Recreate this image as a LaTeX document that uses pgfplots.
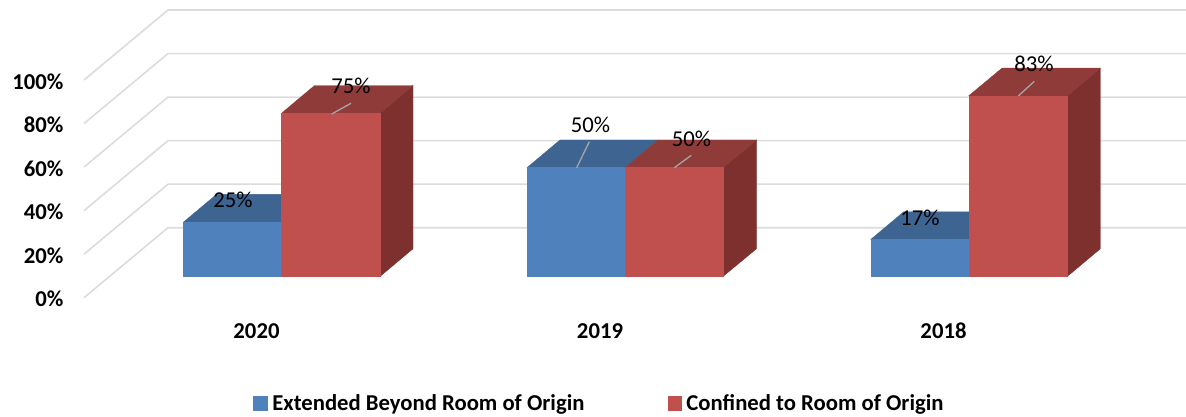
\documentclass[border=0pt]{standalone}
\usepackage{fontspec}
\setmainfont{Carlito}
\usepackage{pgfplots}
\pgfplotsset{compat=1.18}
\definecolor{gridc}{HTML}{DCDCDC}
\definecolor{bluef}{HTML}{4F81BD}
\definecolor{bluet}{HTML}{3E6491}
\definecolor{redf}{HTML}{C0504D}
\definecolor{redt}{HTML}{8F3B39}
\definecolor{reds}{HTML}{7D302E}
\definecolor{leader}{HTML}{A6A6A6}
\newcommand{\lblfont}{\fontsize{22.7}{25}\selectfont}
\pgfplotsset{
  grd/.style={gridc,line width=1.6pt,forget plot},
  face/.style={draw=#1,fill=#1,line width=0.3pt,forget plot,y filter/.expression={y+9.74}},
  lead/.style={leader,line width=1.3pt,forget plot},
  sq/.style={legend image code/.code={\fill[##1] (0pt,-7pt) rectangle (13.5pt,6.5pt);}},
}
\begin{document}
\begin{tikzpicture}
\begin{axis}[
  name=a, scale only axis, width=1102pt, height=297.7pt,
  xmin=84, xmax=1186, ymin=0, ymax=136.75, clip=false,
  axis line style={draw=none}, tick style={draw=none},
  xtick={256.5,600,943.5}, xticklabels={2020,2019,2018},
  ytick={0,20,40,60,80,100},
  yticklabels={0\%,20\%,40\%,60\%,80\%,100\%},
  ticklabel style={font=\lblfont\bfseries, black},
  yticklabel style={xshift=-17pt,yshift=-1.5pt},
  xticklabel style={yshift=-22pt},
  legend columns=2,
  legend style={at={(0.4678,-0.3537)},anchor=center,draw=none,fill=none,
    font=\lblfont\bfseries,inner sep=0pt,
    /tikz/every odd column/.append style={column sep=3pt},
    /tikz/every even column/.append style={column sep=81pt}},
  legend cell align=left,
]
% back wall and side wall gridlines: value, then value + depth of the floor
\addplot[grd] coordinates {(84,0) (168,32.15) (1186,32.15)};
\addplot[grd] coordinates {(84,20) (168,52.15) (1186,52.15)};
\addplot[grd] coordinates {(84,40) (168,72.15) (1186,72.15)};
\addplot[grd] coordinates {(84,60) (168,92.15) (1186,92.15)};
\addplot[grd] coordinates {(84,80) (168,112.15) (1186,112.15)};
\addplot[grd] coordinates {(84,100) (168,132.15) (1186,132.15)};
% 2020: 25, 75
\addplot[face=bluet] coordinates {(183.5,25) (281.5,25) (314.5,37.72) (216.5,37.72)} -- cycle;
\addplot[face=bluef] coordinates {(183.5,0) (183.5,25) (281.5,25) (281.5,0)} -- cycle;
\addplot[face=reds] coordinates {(380,0) (413,12.72) (413,87.72) (380,75)} -- cycle;
\addplot[face=redt] coordinates {(281.5,75) (380,75) (413,87.72) (314.5,87.72)} -- cycle;
\addplot[face=redf] coordinates {(281.5,0) (281.5,75) (380,75) (380,0)} -- cycle;
% 2019: 50, 50
\addplot[face=bluet] coordinates {(527,50) (625,50) (658,62.72) (560,62.72)} -- cycle;
\addplot[face=bluef] coordinates {(527,0) (527,50) (625,50) (625,0)} -- cycle;
\addplot[face=reds] coordinates {(723,0) (756.5,12.72) (756.5,62.72) (723,50)} -- cycle;
\addplot[face=redt] coordinates {(625,50) (723,50) (756.5,62.72) (658,62.72)} -- cycle;
\addplot[face=redf] coordinates {(625,0) (625,50) (723,50) (723,0)} -- cycle;
% 2018: 17, 83
\addplot[face=bluet] coordinates {(870.7,17) (968.7,17) (1002,29.72) (903.7,29.72)} -- cycle;
\addplot[face=bluef] coordinates {(870.7,0) (870.7,17) (968.7,17) (968.7,0)} -- cycle;
\addplot[face=reds] coordinates {(1067.3,0) (1100.3,12.72) (1100.3,95.72) (1067.3,83)} -- cycle;
\addplot[face=redt] coordinates {(968.7,83) (1067.3,83) (1100.3,95.72) (1002,95.72)} -- cycle;
\addplot[face=redf] coordinates {(968.7,0) (968.7,83) (1067.3,83) (1067.3,0)} -- cycle;
% leader lines
\addplot[lead] coordinates {(331.7,84.38) (351,89.30)};
\addplot[lead] coordinates {(576.7,59.7) (589.3,71.66)};
\addplot[lead] coordinates {(674.3,59.7) (691.3,65.41)};
\addplot[lead] coordinates {(1018.3,92.65) (1034.3,99.40)};
% data labels
\node[font=\lblfont,yshift=-1pt] at (axis cs:233,45.3) {25\%};
\node[font=\lblfont,yshift=-1pt] at (axis cs:351,97.7) {75\%};
\node[font=\lblfont,yshift=-1pt] at (axis cs:590.5,79.8) {50\%};
\node[font=\lblfont,yshift=-1pt] at (axis cs:691.5,73.4) {50\%};
\node[font=\lblfont,yshift=-1pt] at (axis cs:920,37.1) {17\%};
\node[font=\lblfont,yshift=-1pt] at (axis cs:1034,107.8) {83\%};
% legend
\addlegendimage{sq,bluef}
\addlegendentry{Extended Beyond Room of Origin}
\addlegendimage{sq,redf}
\addlegendentry{Confined to Room of Origin}
\end{axis}
\pgfresetboundingbox
\path[use as bounding box] (-84pt,-119.3pt) rectangle (1102pt,297.7pt);
\end{tikzpicture}
\end{document}
